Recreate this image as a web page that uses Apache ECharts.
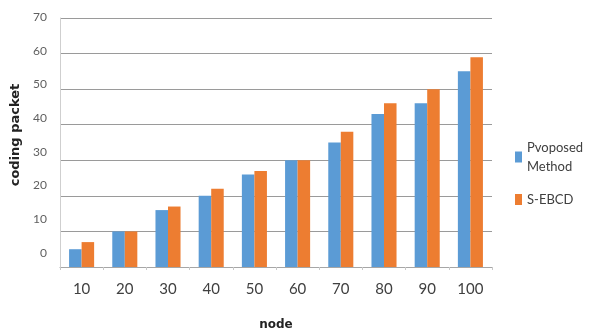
<!DOCTYPE html>
<html><head><meta charset="utf-8">
<script src="https://cdn.jsdelivr.net/npm/echarts@6/dist/echarts.min.js"></script>
<style>html,body{margin:0;padding:0;background:#fff}#c{width:591px;height:336px}</style>
</head><body><div id="c"></div>
<script>
const categories = ['10','20','30','40','50','60','70','80','90','100'];
const proposed = [5,10,16,20,26,30,35,43,46,55];
const sebcd = [7,10,17,22,27,30,38,46,50,59];
const seriesNames = ['Pvoposed\nMethod','S-EBCD'];
const yMin = 0, yMax = 70, yStep = 10;

const chart = echarts.init(document.getElementById('c'));
const font = "Lato,'Liberation Sans Narrow',sans-serif";
chart.setOption({
  animation:false,
  grid:[
    {left:60,right:99,top:18,bottom:69},
    {left:60,right:99,top:17,bottom:83}
  ],
  legend:{
    orient:'vertical', left:510, top:133, itemWidth:7, itemHeight:11, itemGap:14,
    icon:'rect',
    textStyle:{fontFamily:font,fontSize:13,color:'#404040',lineHeight:19},
    data:seriesNames
  },
  xAxis:[
    {type:'category',gridIndex:0,data:categories,
     axisLine:{lineStyle:{color:'#a6a6a6'}},
     axisTick:{show:true,lineStyle:{color:'#c8c8c8'},length:3},
     axisLabel:{fontFamily:font,fontSize:15,color:'#404040',margin:15},
     name:'node',nameLocation:'middle',nameGap:52,
     nameTextStyle:{fontFamily:"'DejaVu Sans','Liberation Sans',sans-serif",fontWeight:'bold',fontSize:12,color:'#222'}},
    {type:'category',gridIndex:1,data:categories,show:false}
  ],
  yAxis:[
    {type:'value',gridIndex:0,min:yMin,max:yMax,interval:yStep,
     axisLabel:{show:false},
     axisLine:{show:true,lineStyle:{color:'#cfcfcf'}},axisTick:{show:false},
     splitLine:{lineStyle:{color:'#9a9a9a',width:1}}},
    {type:'value',gridIndex:1,min:yMin,max:yMax,interval:yStep,
     axisLabel:{fontFamily:font,fontSize:12,color:'#606060',margin:13},
     axisLine:{show:false},axisTick:{show:false},splitLine:{show:false},
     name:'coding packet',nameLocation:'middle',nameGap:36,
     nameTextStyle:{fontFamily:"'DejaVu Sans','Liberation Sans',sans-serif",fontWeight:'bold',fontSize:13,color:'#222'}}
  ],
  series:[
    {name:seriesNames[0],type:'bar',xAxisIndex:0,yAxisIndex:0,data:proposed,
     itemStyle:{color:'#5B9BD5'},barGap:'0%',barCategoryGap:'42%'},
    {name:seriesNames[1],type:'bar',xAxisIndex:0,yAxisIndex:0,data:sebcd,
     itemStyle:{color:'#ED7D31'},barGap:'0%',barCategoryGap:'42%'}
  ]
});
</script></body></html>
